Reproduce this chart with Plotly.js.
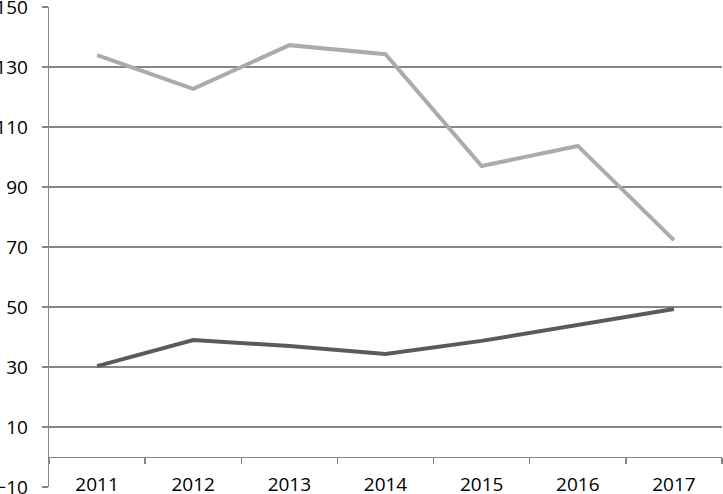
<!DOCTYPE html>
<html>
<head>
<meta charset="utf-8">
<script src="https://cdn.plot.ly/plotly-3.0.1.min.js"></script>
<style>html,body{margin:0;padding:0;background:#fff;}#chart{width:723px;height:494px;}</style>
</head>
<body>
<div id="chart"></div>
<script>
const years = ['2011','2012','2013','2014','2015','2016','2017'];
const seriesLight = [134, 122.7, 137.3, 134.3, 97, 103.7, 72.3];
const seriesDark = [30.3, 39, 37, 34.3, 38.7, 44, 49.3];

const yMin = -10, yMax = 150;
const traces = [
  {x: years, y: seriesLight, type: 'scatter', mode: 'lines', line: {color: '#ababab', width: 4}, hoverinfo: 'skip'},
  {x: years, y: seriesDark, type: 'scatter', mode: 'lines', line: {color: '#5a5a5a', width: 4}, hoverinfo: 'skip'}
];
const pad = 0.02;
const layout = {
  width: 723, height: 494,
  margin: {l: 49, r: 1, t: 7, b: 7},
  paper_bgcolor: '#fff', plot_bgcolor: '#fff',
  showlegend: false,
  font: {family: 'Open Sans, sans-serif', size: 19, color: '#000'},
  xaxis: {
    type: 'category',
    anchor: 'free',
    position: (0 - (yMin - pad)) / ((yMax + pad) - (yMin - pad)),
    showline: true, linecolor: '#868686', linewidth: 1.3,
    ticks: 'outside', tickson: 'boundaries', ticklen: 6, tickcolor: '#868686', tickwidth: 1.3,
    showgrid: false, zeroline: false,
    ticklabelstandoff: 10,
    ticklabeloverflow: 'allow',
    range: [-0.5, 6.5]
  },
  yaxis: {
    range: [yMin - pad, yMax + pad], tick0: -10, dtick: 20,
    showline: true, linecolor: '#868686', linewidth: 1.3,
    ticks: 'outside', ticklen: 6, tickcolor: '#868686', tickwidth: 1.3,
    showgrid: true, gridcolor: '#868686', gridwidth: 1.3,
    zeroline: false,
    ticklabelstandoff: 10,
    ticklabeloverflow: 'allow'
  }
};
Plotly.newPlot('chart', traces, layout, {staticPlot: true, displayModeBar: false});
</script>
</body>
</html>
